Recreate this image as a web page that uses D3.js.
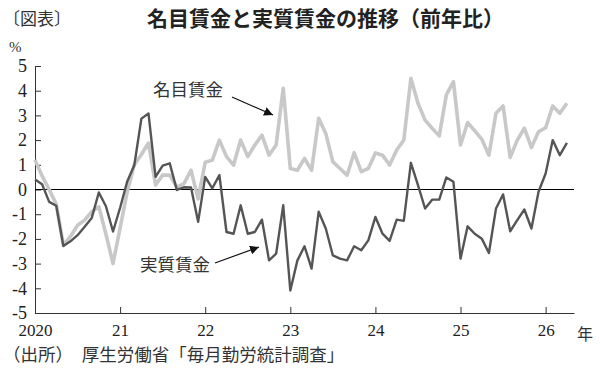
<!DOCTYPE html>
<html><head><meta charset="utf-8">
<script src="https://cdn.jsdelivr.net/npm/d3@7/dist/d3.min.js"></script>
<style>
body{margin:0;background:#fff;}
svg{display:block;}
</style></head>
<body>
<svg id="chart" width="600" height="375"></svg>
<script>
// Monthly, 2020-01 .. 2026-04 (year-on-year %)
const startYear = 2020;
const yearLabels = ["2020","21","22","23","24","25","26"];
const yTicks = [-5,-4,-3,-2,-1,0,1,2,3,4,5];
const nominal = [
  1.2, 0.55, 0.0, -0.6, -2.25, -1.9, -1.45, -1.24, -0.9, -0.7, -1.8, -3.0,
  -1.55, -0.1, 1.0, 1.42, 1.88, 0.18, 0.58, 0.58, 0.1, 0.24, 0.78, -0.38,
  1.1, 1.19, 2.0, 1.33, 0.99, 2.0, 1.33, 1.8, 2.2, 1.39, 1.8, 4.1,
  0.85, 0.78, 1.26, 0.78, 2.88, 2.27, 1.12, 0.85, 0.58, 1.49, 0.72, 0.85,
  1.48, 1.39, 0.99, 1.6, 2.0, 4.5, 3.49, 2.81, 2.48, 2.17, 3.83, 4.37,
  1.8, 2.71, 2.38, 2.03, 1.39, 3.09, 3.38, 1.3, 2.0, 2.48, 1.7, 2.34,
  2.5, 3.38, 3.09, 3.49
];
const real = [
  0.4, 0.21, -0.5, -0.66, -2.29, -2.1, -1.85, -1.51, -1.15, -0.12, -0.68, -1.7,
  -0.74, 0.32, 0.98, 2.87, 3.08, 0.51, 0.97, 1.06, -0.02, 0.09, 0.08, -1.31,
  0.51, 0.05, 0.58, -1.72, -1.79, -0.64, -1.79, -1.72, -1.22, -2.87, -2.6, -0.64,
  -4.09, -2.87, -2.3, -3.2, -0.9, -1.58, -2.67, -2.8, -2.87, -2.3, -2.46, -2.06,
  -1.11, -1.79, -2.08, -1.22, -1.27, 1.08, 0.18, -0.77, -0.41, -0.41, 0.49, 0.31,
  -2.8, -1.49, -1.79, -1.99, -2.57, -0.77, -0.2, -1.69, -1.24, -0.81, -1.58, -0.09,
  0.65, 2.0, 1.39, 1.89
];

const svg = d3.select("#chart");
const serif = "'Liberation Serif','DejaVu Serif',serif";
const jp = "'Noto Sans CJK JP','Noto Sans',sans-serif";

const x = d3.scaleLinear().domain([0, 76]).range([35, 574]);
const y = d3.scaleLinear().domain([-5, 5]).range([313, 66]);

// Title & header
svg.append("text").attr("x", 3).attr("y", 25).attr("font-family", jp)
  .attr("font-size", 17).attr("fill", "#333").text("〔図表〕");
svg.append("text").attr("x", 147).attr("y", 26).attr("font-family", jp)
  .attr("font-size", 21).attr("font-weight", "bold").attr("fill", "#222")
  .text("名目賃金と実質賃金の推移（前年比）");
svg.append("text").attr("x", 9).attr("y", 52).attr("font-family", serif)
  .attr("font-size", 15).attr("fill", "#333").text("%");

// Y axis
const yAxis = d3.axisLeft(y).tickValues(yTicks).tickSize(-6).tickSizeOuter(0)
  .tickPadding(8).tickFormat(d => String(d));
const gy = svg.append("g").attr("transform", `translate(${x(0)},0)`).call(yAxis);
gy.selectAll("text").attr("font-family", serif).attr("font-size", 18).attr("fill", "#222");
gy.selectAll("line,path").attr("stroke", "#333");

// X axis
const xAxis = d3.axisBottom(x).tickValues(yearLabels.map((d, i) => i * 12))
  .tickSize(-6).tickSizeOuter(0).tickPadding(11)
  .tickFormat((d, i) => yearLabels[i]);
const gx = svg.append("g").attr("transform", `translate(0,${y(-5)})`).call(xAxis);
gx.selectAll("text").attr("font-family", serif).attr("font-size", 17).attr("fill", "#222");
gx.selectAll("line,path").attr("stroke", "#333");
svg.append("text").attr("x", 577).attr("y", 340).attr("font-family", jp)
  .attr("font-size", 16).attr("fill", "#333").text("年");

// Zero line
svg.append("line").attr("x1", x(0)).attr("x2", x(76)).attr("y1", y(0)).attr("y2", y(0))
  .attr("stroke", "#000").attr("stroke-width", 1);

// Lines
const line = d3.line().x((d, i) => x(i)).y(d => y(d));
svg.append("path").datum(nominal).attr("d", line).attr("fill", "none")
  .attr("stroke", "#c8c8c8").attr("stroke-width", 3.6).attr("stroke-linejoin", "round");
svg.append("path").datum(real).attr("d", line).attr("fill", "none")
  .attr("stroke", "#555").attr("stroke-width", 2.4).attr("stroke-linejoin", "round");

// Annotations
const defs = svg.append("defs");
defs.append("marker").attr("id", "arr").attr("viewBox", "0 0 10 10").attr("refX", 10).attr("refY", 5)
  .attr("markerWidth", 9).attr("markerHeight", 9).attr("markerUnits", "userSpaceOnUse")
  .attr("orient", "auto")
  .append("path").attr("d", "M0,0 L10,5 L0,10 z").attr("fill", "#111");
svg.append("text").attr("x", 153).attr("y", 96).attr("font-family", jp)
  .attr("font-size", 17.5).attr("fill", "#333").text("名目賃金");
svg.append("line").attr("x1", 232).attr("y1", 97).attr("x2", 273).attr("y2", 115)
  .attr("stroke", "#111").attr("stroke-width", 1.2).attr("marker-end", "url(#arr)");
svg.append("text").attr("x", 140).attr("y", 271).attr("font-family", jp)
  .attr("font-size", 17.5).attr("fill", "#333").text("実質賃金");
svg.append("line").attr("x1", 215).attr("y1", 263).attr("x2", 259).attr("y2", 247)
  .attr("stroke", "#111").attr("stroke-width", 1.2).attr("marker-end", "url(#arr)");

// Source
svg.append("text").attr("x", 3).attr("y", 361).attr("font-family", jp)
  .attr("font-size", 17.5).attr("fill", "#333").text("（出所）　厚生労働省「毎月勤労統計調査」");
</script>
</body></html>
